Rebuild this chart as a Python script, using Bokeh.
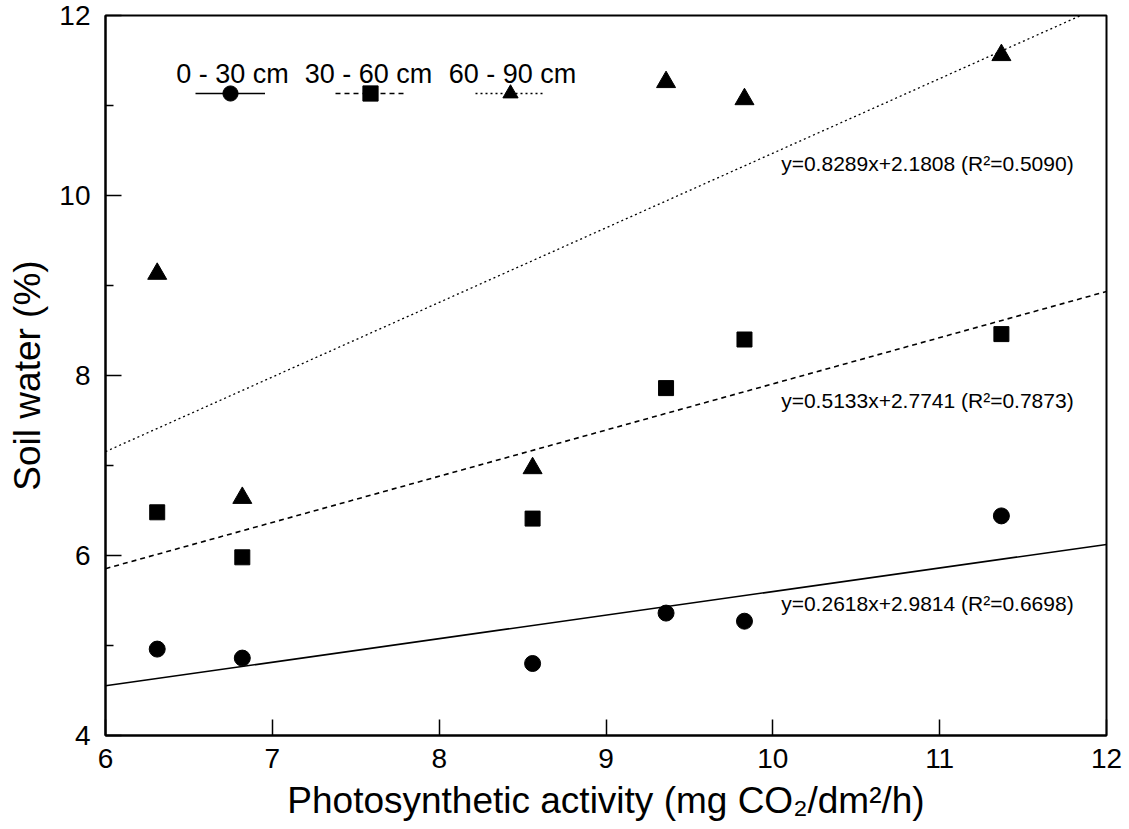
from bokeh.plotting import figure
from bokeh.models import FixedTicker, Label, Legend, LegendItem, Range1d
from bokeh.embed import file_html
from bokeh.resources import INLINE

# ---- data ----
activity = [6.31, 6.82, 8.56, 9.36, 9.83, 11.37]
water_0_30 = [4.96, 4.86, 4.80, 5.36, 5.27, 6.44]
water_30_60 = [6.48, 5.98, 6.41, 7.86, 8.40, 8.46]
water_60_90 = [9.13, 6.64, 6.97, 11.26, 11.07, 11.56]
series_labels = ["0 - 30 cm", "30 - 60 cm", "60 - 90 cm"]
slopes = [0.2618, 0.5133, 0.8289]
intercepts = [2.9814, 2.7741, 2.1808]
r_squared = [0.6698, 0.7873, 0.5090]
x_ticks = [6, 7, 8, 9, 10, 11, 12]
y_ticks = [4, 6, 8, 10, 12]
y_minor_ticks = [5, 7, 9, 11]

FONT = "Liberation Sans"
X0, X1 = 6, 12

p = figure(width=1129, height=829, x_range=Range1d(X0, X1), y_range=Range1d(4, 12),
           output_backend="svg", toolbar_location=None,
           min_border_left=105, min_border_right=23, min_border_top=15, min_border_bottom=94)
p.grid.visible = False
p.outline_line_color = "black"
p.outline_line_width = 2
p.background_fill_color = "white"
p.border_fill_color = "white"

for ax in (p.xaxis[0], p.yaxis[0]):
    ax.axis_line_width = 2
    ax.axis_line_color = "black"
    ax.major_tick_in = 16
    ax.major_tick_out = 0
    ax.major_tick_line_width = 1.5
    ax.major_tick_line_color = "black"
    ax.minor_tick_in = 8
    ax.minor_tick_out = 0
    ax.minor_tick_line_width = 1.5
    ax.minor_tick_line_color = "black"
    ax.major_label_text_font = FONT
    ax.major_label_text_font_size = "28px"
    ax.major_label_text_color = "black"
    ax.axis_label_text_font = FONT
    ax.axis_label_text_font_size = "37px"
    ax.axis_label_text_font_style = "normal"
    ax.axis_label_text_color = "black"

p.xaxis.ticker = FixedTicker(ticks=x_ticks)
p.yaxis.ticker = FixedTicker(ticks=y_ticks, minor_ticks=y_minor_ticks)
p.xaxis.major_label_standoff = 13
p.yaxis.major_label_standoff = 15
p.xaxis.axis_label = "Photosynthetic activity (mg CO\u2082/dm\u00b2/h)"
p.yaxis.axis_label = "Soil water (%)"
p.xaxis.axis_label_standoff = 9
p.yaxis.axis_label_standoff = 8

series_y = [water_0_30, water_30_60, water_60_90]
markers = ["circle", "square", "triangle"]
marker_sizes = [16, 15, 19]
dashes = ["solid", "5 4", "2 3"]
line_widths = [1.6, 1.6, 1.3]

items = []
for ys, mk, ms, dash, lw, a, b in zip(series_y, markers, marker_sizes, dashes,
                                      line_widths, slopes, intercepts):
    lr = p.line(x=[X0, X1], y=[a * X0 + b, a * X1 + b], line_color="black",
                line_width=lw, line_dash=dash)
    sr = p.scatter(x=activity, y=ys, marker=mk, size=ms, fill_color="black",
                   line_color="black")
    items.append(LegendItem(label="", renderers=[lr, sr]))

legend = Legend(items=items, orientation="horizontal", location=(90, 623),
                glyph_width=70, glyph_height=38, spacing=70, label_standoff=0,
                label_width=0, label_height=0, padding=0, margin=0,
                border_line_color=None, background_fill_alpha=0,
                label_text_font_size="1px")
p.add_layout(legend, "center")

legend_text_x = [127, 263, 407]
for lbl, lx in zip(series_labels, legend_text_x):
    p.add_layout(Label(x=lx, y=662, x_units="screen", y_units="screen", text=lbl,
                       text_align="center", text_baseline="alphabetic",
                       text_font=FONT, text_font_size="27px", text_color="black"))

eq_x = 10.05
eq_y = [5.47, 7.72, 10.36]
for a, b, r2, ey in zip(slopes, intercepts, r_squared, eq_y):
    p.add_layout(Label(x=eq_x, y=ey, text=f"y={a:.4f}x+{b:.4f} (R\u00b2={r2:.4f})",
                       text_align="left", text_baseline="middle",
                       text_font=FONT, text_font_size="21px", text_color="black"))

open("out.html", "w").write(file_html(p, INLINE))
